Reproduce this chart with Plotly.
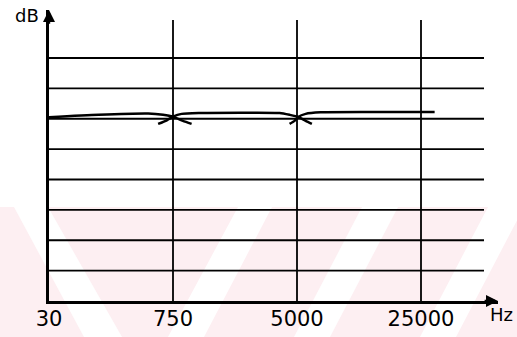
import plotly.graph_objects as go

W, H = 517, 337

# ---- data ----
freq_labels = ["30", "750", "5000", "25000"]
freq_pos = [0, 1, 2, 3]
grid_levels = [1, 2, 3, 4, 5, 6, 7, 8]

low_x = [0.0, 0.40, 0.80, 0.92, 1.00, 1.08, 1.15]
low_y = [6.05, 6.13, 6.17, 6.13, 6.07, 5.93, 5.83]

mid_x = [0.88, 0.95, 1.00, 1.07, 1.22, 1.60, 1.86, 1.94, 2.01, 2.07, 2.12]
mid_y = [5.83, 5.95, 6.07, 6.16, 6.19, 6.20, 6.19, 6.13, 6.06, 5.93, 5.83]

high_x = [1.94, 1.98, 2.01, 2.07, 2.19, 2.60, 3.11]
high_y = [5.83, 5.93, 6.06, 6.16, 6.21, 6.22, 6.22]

# ---- geometry (pixels) ----
X0, XEND = 49, 498       # y-axis position, x-axis end
Y0, YTOP = 301, 10       # x-axis position, y-axis top
PX_PER_X = 124.0
PX_PER_Y = 30.375

x_range = [0, (XEND - X0) / PX_PER_X]
y_range = [0, (Y0 - YTOP) / PX_PER_Y]

def px(x):
    return x / W

def py(y):
    return 1 - y / H

fig = go.Figure()

line_style = dict(color="black", width=2.5)
for xs, ys in [(low_x, low_y), (mid_x, mid_y), (high_x, high_y)]:
    fig.add_trace(go.Scatter(x=xs, y=ys, mode="lines", line=dict(shape="spline", smoothing=0.6, **line_style),
                             hoverinfo="skip", showlegend=False, cliponaxis=False))

shapes = []
# watermark (paper coords, below everything)
pink = "#fdeff2"
shapes.append(dict(type="rect", xref="paper", yref="paper", x0=0, x1=1, y0=0, y1=py(207),
                   fillcolor=pink, line=dict(width=0), layer="below"))
wm_top, wm_bot = 207, 337
bands = [(14, 48, 84, 122), (238, 272, 168, 204), (362, 398, 294, 330), (488, 524, 420, 456)]
for a, b, c, d in bands:
    path = f"M {px(a)} {py(wm_top)} L {px(b)} {py(wm_top)} L {px(d)} {py(wm_bot)} L {px(c)} {py(wm_bot)} Z"
    shapes.append(dict(type="path", xref="paper", yref="paper", path=path,
                       fillcolor="white", line=dict(width=0), layer="below"))

grid_end = (484 - X0) / PX_PER_X
for g in grid_levels:
    shapes.append(dict(type="line", xref="x", yref="y", x0=0, x1=grid_end, y0=g, y1=g,
                       line=dict(color="black", width=1.8)))
vtop = (Y0 - 20) / PX_PER_Y
for p in freq_pos[1:]:
    shapes.append(dict(type="line", xref="x", yref="y", x0=p, x1=p, y0=0, y1=vtop,
                       line=dict(color="black", width=1.8)))

annotations = [
    dict(xref="paper", yref="paper", x=px(27), y=py(16), text="dB", showarrow=False,
         font=dict(family="DejaVu Sans", size=18, color="black"), xanchor="center", yanchor="middle"),
    dict(xref="paper", yref="paper", x=px(501), y=py(314), text="Hz", showarrow=False,
         font=dict(family="DejaVu Sans", size=18, color="black"), xanchor="center", yanchor="middle"),
    # axis arrowheads
    dict(xref="x", yref="y", axref="x", ayref="y", x=0, y=y_range[1], ax=0, ay=y_range[1] - 0.5,
         showarrow=True, arrowhead=2, arrowsize=1.0, arrowwidth=2.4, arrowcolor="black", text=""),
    dict(xref="x", yref="y", axref="x", ayref="y", x=x_range[1], y=0, ax=x_range[1] - 0.12, ay=0,
         showarrow=True, arrowhead=2, arrowsize=1.0, arrowwidth=2.4, arrowcolor="black", text=""),
]

fig.update_layout(
    width=W, height=H, margin=dict(l=0, r=0, t=0, b=0, autoexpand=False),
    paper_bgcolor="white", plot_bgcolor="rgba(0,0,0,0)",
    shapes=shapes, annotations=annotations, showlegend=False,
    xaxis=dict(domain=[X0 / W, XEND / W], range=x_range, showgrid=False, zeroline=False,
               showline=True, linecolor="black", linewidth=2.6, automargin=False,
               tickmode="array", tickvals=freq_pos, ticktext=freq_labels,
               ticks="", ticklabelstandoff=-3,
               tickfont=dict(family="DejaVu Sans", size=21, color="black")),
    yaxis=dict(domain=[1 - Y0 / H, 1 - YTOP / H], range=y_range, showgrid=False, zeroline=False,
               showline=True, linecolor="black", linewidth=2.6, showticklabels=False, ticks="",
               automargin=False),
)

fig.write_html("out.html")
